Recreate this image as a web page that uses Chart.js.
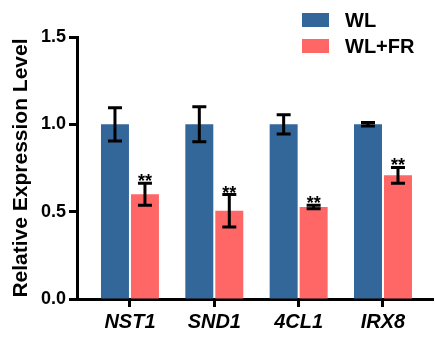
<!DOCTYPE html>
<html>
<head>
<meta charset="utf-8">
<script src="https://cdn.jsdelivr.net/npm/chart.js@4/dist/chart.umd.min.js"></script>
<style>
  html, body { margin: 0; padding: 0; background: #fff; }
  #wrap { width: 435px; height: 338px; }
</style>
</head>
<body>
<div id="wrap"><canvas id="chart" width="435" height="338"></canvas></div>
<script>
// --- Data ---
const genes = ['NST1', 'SND1', '4CL1', 'IRX8'];
const seriesNames = ['WL', 'WL+FR'];
const wlValues = [1.0, 1.0, 1.0, 1.0];
const wlErrors = [0.095, 0.10, 0.055, 0.01];
const frValues = [0.60, 0.505, 0.527, 0.708];
const frErrors = [0.063, 0.093, 0.01, 0.045];
const frMarks = ['**', '**', '**', '**'];
const yTicks = [0, 0.5, 1.0, 1.5];

const blue = '#336699';
const red = '#FF6666';
const font = "'Liberation Sans', Arial, sans-serif";

// error bars + significance stars drawn on top of the bars
const errorBarPlugin = {
    id: 'errorBars',
    afterDatasetsDraw(chart) {
        const ctx = chart.ctx;
        const yScale = chart.scales.y;
        const errs = [wlErrors, frErrors];
        ctx.save();
        ctx.strokeStyle = '#000';
        ctx.lineWidth = 3;
        chart.data.datasets.forEach((ds, i) => {
            const meta = chart.getDatasetMeta(i);
            meta.data.forEach((bar, j) => {
                const v = ds.data[j].y;
                const e = errs[i][j];
                const x = bar.x;
                const yTop = yScale.getPixelForValue(v + e);
                const yBot = yScale.getPixelForValue(v - e);
                ctx.beginPath();
                ctx.moveTo(x, yTop);
                ctx.lineTo(x, yBot);
                ctx.moveTo(x - 7, yTop);
                ctx.lineTo(x + 7, yTop);
                ctx.moveTo(x - 7, yBot);
                ctx.lineTo(x + 7, yBot);
                ctx.stroke();
                if (i === 1 && frMarks[j]) {
                    ctx.fillStyle = '#000';
                    ctx.font = 'bold 18px ' + font;
                    ctx.textAlign = 'center';
                    ctx.textBaseline = 'alphabetic';
                    ctx.fillText(frMarks[j], x, yTop + 4);
                }
            });
        });
        ctx.restore();
    }
};

// legend in the top-right corner
const legendPlugin = {
    id: 'cornerLegend',
    afterDraw(chart) {
        const ctx = chart.ctx;
        ctx.save();
        chart.data.datasets.forEach((ds, i) => {
            const y = 13 + i * 26;
            ctx.fillStyle = ds.backgroundColor;
            ctx.fillRect(302, y, 27, 14);
            ctx.fillStyle = '#000';
            ctx.font = 'bold 20px ' + font;
            ctx.textAlign = 'left';
            ctx.textBaseline = 'middle';
            ctx.fillText(ds.label, 345, y + 8);
        });
        ctx.restore();
    }
};

const ctx = document.getElementById('chart').getContext('2d');
new Chart(ctx, {
    type: 'bar',
    data: {
        datasets: [
            {
                label: seriesNames[0],
                data: wlValues.map((v, i) => ({ x: i, y: v })),
                backgroundColor: blue
            },
            {
                label: seriesNames[1],
                data: frValues.map((v, i) => ({ x: i, y: v })),
                backgroundColor: red
            }
        ]
    },
    options: {
        responsive: false,
        animation: false,
        categoryPercentage: 0.711,
        barPercentage: 0.933,
        layout: { padding: { top: 37, right: 2, left: 0, bottom: 0 } },
        plugins: {
            legend: { display: false },
            tooltip: { enabled: false }
        },
        scales: {
            x: {
                type: 'linear',
                offset: false,
                min: -0.628,
                max: 3.593,
                afterFit(scale) { scale.height = 39; },
                afterBuildTicks(scale) {
                    scale.ticks = genes.map((g, i) => ({ value: i }));
                },
                ticks: {
                    autoSkip: false,
                    maxRotation: 0,
                    padding: 3,
                    color: '#000',
                    font: { family: font, size: 20, weight: 'bold', style: 'italic' },
                    callback: (v) => genes[v]
                },
                grid: {
                    offset: false,
                    drawOnChartArea: false,
                    drawTicks: true,
                    tickLength: 8,
                    tickWidth: 3,
                    tickColor: '#000'
                },
                border: { display: true, color: '#000', width: 3 }
            },
            y: {
                min: 0,
                max: 1.5,
                afterFit(scale) { scale.width = 77; },
                afterBuildTicks(scale) {
                    scale.ticks = yTicks.map(v => ({ value: v }));
                },
                ticks: {
                    padding: 3,
                    color: '#000',
                    font: { family: font, size: 18, weight: 'bold' },
                    callback: (v) => v.toFixed(1)
                },
                grid: {
                    drawOnChartArea: false,
                    drawTicks: true,
                    tickLength: 8,
                    tickWidth: 3,
                    tickColor: '#000'
                },
                border: { display: true, color: '#000', width: 3 },
                title: {
                    display: true,
                    text: 'Relative Expression Level',
                    color: '#000',
                    padding: { top: 9, bottom: 0 },
                    font: { family: font, size: 21, weight: 'bold' }
                }
            }
        }
    },
    plugins: [errorBarPlugin, legendPlugin]
});
</script>
</body>
</html>
